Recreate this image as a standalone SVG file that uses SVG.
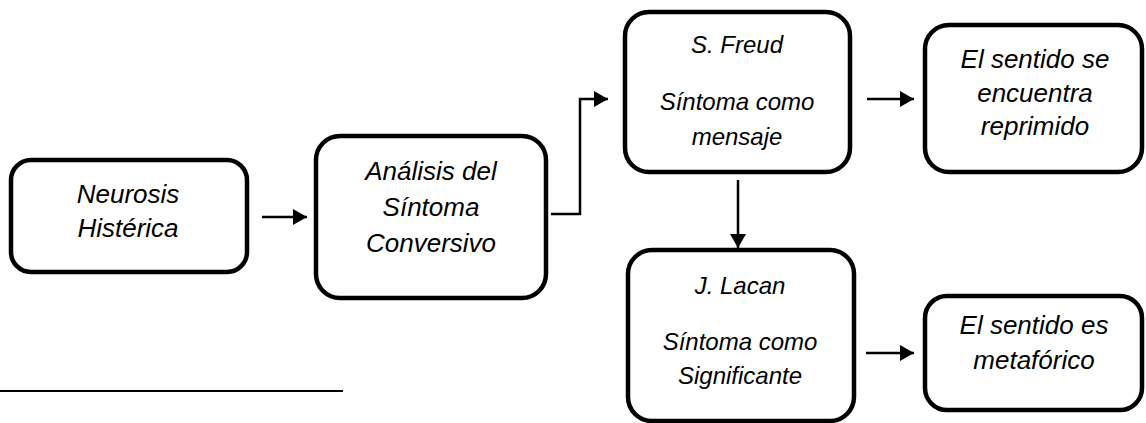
<svg xmlns="http://www.w3.org/2000/svg" width="1146" height="423" viewBox="0 0 1146 423">
<style>
.box{fill:#fff;stroke:#000;stroke-width:4.5}
.t{font-family:"Liberation Sans",Arial,sans-serif;font-style:italic;font-size:26px;fill:#000;text-anchor:middle}
.s{font-size:24px}
.c{fill:none;stroke:#000;stroke-width:2.5}
</style>
<defs>
<marker id="ah" markerUnits="userSpaceOnUse" markerWidth="14" markerHeight="16" refX="14" refY="8" orient="auto">
<path d="M0,0 L14,8 L0,16 Z" fill="#000"/>
</marker>
</defs>
<rect width="1146" height="423" fill="#fff"/>
<g id="n1">
<rect class="box" x="11" y="160" width="236" height="112" rx="20"/>
<text class="t" x="128" y="203">Neurosis</text>
<text class="t" x="128" y="237">Histérica</text>
</g>
<g id="n2">
<rect class="box" x="316" y="136" width="230" height="162" rx="24"/>
<text class="t" x="431" y="180">Análisis del</text>
<text class="t" x="431" y="216">Síntoma</text>
<text class="t" x="431" y="252">Conversivo</text>
</g>
<g id="n3">
<rect class="box" x="625" y="12" width="225" height="160" rx="24"/>
<text class="t s" x="737" y="53">S. Freud</text>
<text class="t s" x="737" y="110">Síntoma como</text>
<text class="t s" x="737" y="145">mensaje</text>
</g>
<g id="n4">
<rect class="box" x="925" y="25" width="217" height="147" rx="24"/>
<text class="t" x="1035" y="68">El sentido se</text>
<text class="t" x="1035" y="102">encuentra</text>
<text class="t" x="1035" y="135">reprimido</text>
</g>
<g id="n5">
<rect class="box" x="628" y="250" width="226" height="171" rx="24"/>
<text class="t s" x="740" y="294">J. Lacan</text>
<text class="t s" x="740" y="350">Síntoma como</text>
<text class="t s" x="740" y="384">Significante</text>
</g>
<g id="n6">
<rect class="box" x="925" y="296" width="217" height="114" rx="22"/>
<text class="t" x="1034" y="334">El sentido es</text>
<text class="t" x="1034" y="369">metafórico</text>
</g>
<g id="connectors">
<line class="c" x1="262" y1="217" x2="307" y2="217" marker-end="url(#ah)"/>
<polyline class="c" points="551,214 580,214 580,99 608,99" marker-end="url(#ah)"/>
<line class="c" x1="867" y1="99" x2="914" y2="99" marker-end="url(#ah)"/>
<line class="c" x1="738" y1="180" x2="738" y2="248" marker-end="url(#ah)"/>
<line class="c" x1="866" y1="353" x2="914" y2="353" marker-end="url(#ah)"/>
</g>
<line x1="0" y1="391" x2="343" y2="391" stroke="#000" stroke-width="2"/>
</svg>
